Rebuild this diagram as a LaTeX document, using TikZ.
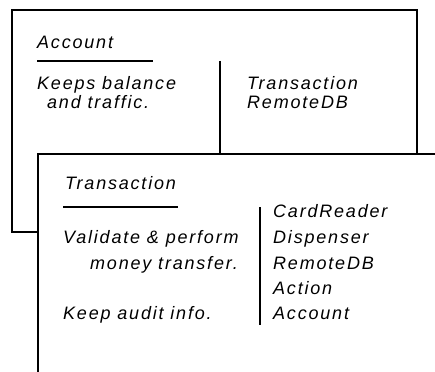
\documentclass[tikz,border=0pt]{standalone}
\usepackage{fontspec}
\newfontfamily\cardfont[LetterSpace=10]{Liberation Sans}
\usetikzlibrary{positioning}

\begin{document}
\begin{tikzpicture}[x=1pt, y=-1pt,
    card/.style={line width=1.6pt, line cap=rect},
    rule/.style={line width=1.6pt},
    txt/.style={anchor=base west, inner sep=0pt, font=\cardfont\itshape\fontsize{18}{22}\selectfont}]
    \useasboundingbox (0,0) rectangle (435,371);

    % Back card
    \draw[card] (38,232) -- (12,232) -- (12,10) -- (417,10) -- (417,154);
    \node[txt] (acc) at (37,49) {Account};
    \draw[rule] (37,61) -- (153,61);
    \draw[rule] (220,61) -- (220,154);
    \node[txt] (accr1) at (37,90) {Keeps balance};
    \node[txt] (accr2) at (47,109) {and traffic.};
    \node[txt] (accc1) at (247,90) {Transaction};
    \node[txt] (accc2) at (247,109) {RemoteDB};

    % Front card
    \draw[card] (38,380) -- (38,154) -- (445,154);
    \node[txt] (trn) at (65,189) {Transaction};
    \draw[rule] (63,207) -- (178,207);
    \draw[rule] (260,207) -- (260,325);
    \node[txt] (trnr1) at (63,243) {Validate \& perform};
    \node[txt] (trnr2) at (90,269) {money transfer.};
    \node[txt] (trnr3) at (63,319) {Keep audit info.};
    \node[txt] (trnc1) at (273,217) {CardReader};
    \node[txt] (trnc2) at (273,243) {Dispenser};
    \node[txt] (trnc3) at (273,269) {RemoteDB};
    \node[txt] (trnc4) at (273,294) {Action};
    \node[txt] (trnc5) at (273,319) {Account};
\end{tikzpicture}
\end{document}
